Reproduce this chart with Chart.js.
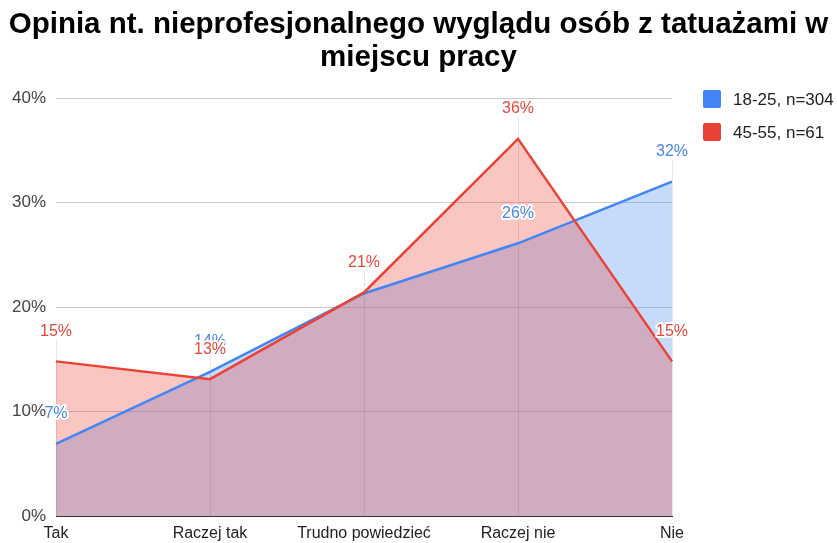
<!DOCTYPE html>
<html><head><meta charset="utf-8">
<script src="https://cdn.jsdelivr.net/npm/chart.js@4.4.1/dist/chart.umd.min.js"></script>
<style>html,body{margin:0;padding:0;background:#fff}canvas{display:block}</style>
</head><body>
<canvas id="c" width="837" height="543"></canvas>
<script>
const titleLines = ['Opinia nt. nieprofesjonalnego wyglądu osób z tatuażami w', 'miejscu pracy'];
const categories = ['Tak', 'Raczej tak', 'Trudno powiedzieć', 'Raczej nie', 'Nie'];
const seriesNames = ['18-25, n=304', '45-55, n=61'];
const young = [6.9, 13.8, 21.3, 26.1, 32.0];
const older = [14.8, 13.1, 21.4, 36.1, 14.8];
const yTicks = [0, 10, 20, 30, 40];

const BLUE = '#4285f4', RED = '#ea4335';
const LBL_BLUE = '#4a86e8', LBL_RED = '#e5483e';
const FONT = '"Liberation Sans", Arial, sans-serif';

const stemPlugin = {
  id: 'stems',
  beforeDatasetsDraw(chart) {
    const ctx = chart.ctx, area = chart.chartArea, y = chart.scales.y, x = chart.scales.x;
    ctx.save();
    ctx.strokeStyle = 'rgba(0,0,0,0.09)';
    ctx.lineWidth = 1;
    categories.forEach((c, i) => {
      const top = Math.max(young[i], older[i]);
      const px = Math.round(x.getPixelForValue(i)) + 0.5;
      const py = y.getPixelForValue(top) - 30 + 8;
      ctx.beginPath(); ctx.moveTo(px, py); ctx.lineTo(px, area.bottom); ctx.stroke();
    });
    ctx.restore();
  }
};

const labelPlugin = {
  id: 'vlabels',
  afterDatasetsDraw(chart) {
    const ctx = chart.ctx;
    ctx.save();
    ctx.font = '16px ' + FONT;
    ctx.textAlign = 'center';
    ctx.textBaseline = 'middle';
    ctx.lineJoin = 'round';
    [0, 1].forEach(di => {
      const meta = chart.getDatasetMeta(di);
      const vals = chart.data.datasets[di].data;
      meta.data.forEach((pt, i) => {
        const t = Math.round(vals[i]) + '%';
        const ly = pt.y - 30;
        ctx.lineWidth = 4; ctx.strokeStyle = '#fff';
        ctx.strokeText(t, pt.x, ly);
        ctx.fillStyle = di === 0 ? LBL_BLUE : LBL_RED;
        ctx.fillText(t, pt.x, ly);
      });
    });
    ctx.restore();
  }
};

const legendPlugin = {
  id: 'sideLegend',
  afterDraw(chart) {
    const ctx = chart.ctx;
    ctx.save();
    const colors = [BLUE, RED];
    seriesNames.forEach((n, i) => {
      const cy = 99 + i * 33;
      ctx.fillStyle = colors[i];
      ctx.beginPath();
      ctx.roundRect(703, cy - 9, 18, 18, 2);
      ctx.fill();
      ctx.fillStyle = '#222';
      ctx.font = '17px ' + FONT;
      ctx.textAlign = 'left';
      ctx.textBaseline = 'middle';
      ctx.fillText(n, 733, cy + 1);
    });
    ctx.restore();
  }
};

new Chart(document.getElementById('c'), {
  type: 'line',
  data: {
    labels: categories,
    datasets: [
      { label: seriesNames[0], data: young, borderColor: BLUE, backgroundColor: 'rgba(66,133,244,0.30)',
        fill: 'origin', borderWidth: 2.5, pointRadius: 0, tension: 0, order: 2 },
      { label: seriesNames[1], data: older, borderColor: RED, backgroundColor: 'rgba(234,67,53,0.30)',
        fill: 'origin', borderWidth: 2.5, pointRadius: 0, tension: 0, order: 1 }
    ]
  },
  options: {
    responsive: false,
    animation: false,
    layout: { padding: { left: 0, right: 0, top: 0, bottom: 0 } },
    plugins: {
      filler: { drawTime: 'beforeDatasetsDraw' },
      legend: { display: false },
      tooltip: { enabled: false },
      title: {
        display: true, text: titleLines, color: '#000',
        font: { family: FONT, size: 29.5, weight: 'bold', lineHeight: 1.12 },
        padding: { top: 8, bottom: 24 }
      }
    },
    scales: {
      x: {
        offset: false,
        grid: { display: false, drawTicks: false },
        border: { display: true, color: '#333', width: 1 },
        afterFit(s) { s.height = 27; },
        ticks: { color: '#222', font: { family: FONT, size: 16 }, padding: 8, maxRotation: 0, autoSkip: false }
      },
      y: {
        min: 0, max: 40,
        afterBuildTicks(s) { s.ticks = yTicks.map(v => ({ value: v })); },
        afterFit(s) { s.width = 56; },
        grid: { color: '#cccccc', drawTicks: false },
        border: { display: false },
        ticks: { color: '#444', font: { family: FONT, size: 17 }, padding: 10, callback: v => v + '%' }
      },
      side: {
        type: 'linear', position: 'right', display: true,
        grid: { display: false, drawTicks: false },
        border: { display: false },
        ticks: { display: false },
        afterFit(s) { s.width = 165; }
      }
    }
  },
  plugins: [stemPlugin, labelPlugin, legendPlugin]
});
</script>
</body></html>
